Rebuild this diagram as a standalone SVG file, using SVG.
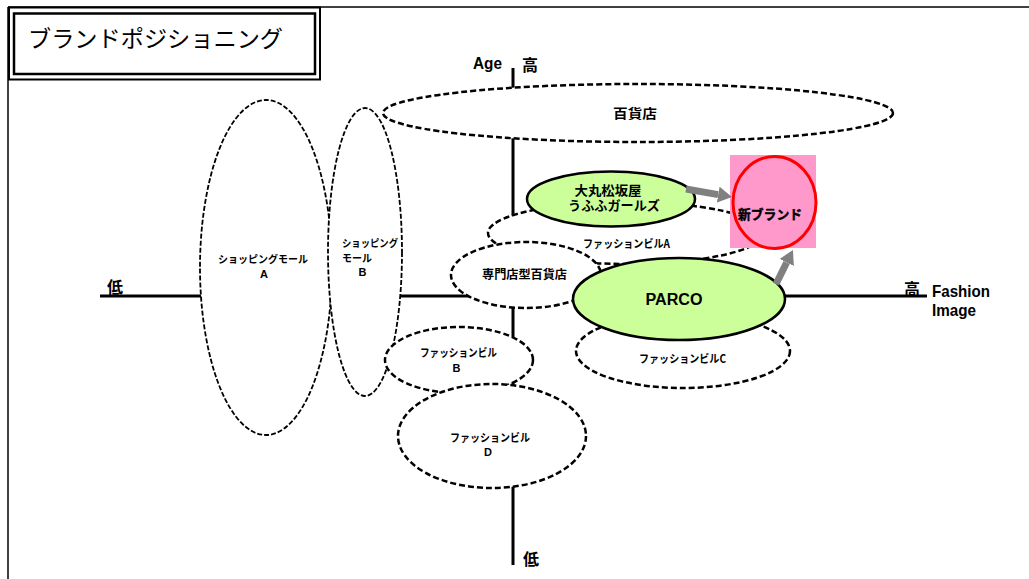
<svg xmlns="http://www.w3.org/2000/svg" width="1029" height="579" viewBox="0 0 1029 579">
<style>
.jp{font-family:"Noto Sans CJK JP","Liberation Sans",sans-serif;font-weight:bold;fill:#000}
.lt{font-family:"Liberation Sans","Noto Sans CJK JP",sans-serif;font-weight:bold;fill:#000}
.dash{fill:#fff;stroke:#000;stroke-width:2.5;stroke-dasharray:6 3}
.dashthin{fill:#fff;stroke:#000;stroke-width:1.8;stroke-dasharray:5 2}
.green{fill:#ccff99;stroke:#000;stroke-width:2.5}
.axis{stroke:#000;stroke-width:3;fill:none}
.garrow{stroke:#808080;stroke-width:7;fill:none}
</style>
<defs>
<marker id="ghead" markerUnits="userSpaceOnUse" markerWidth="14" markerHeight="16" refX="0" refY="8" orient="auto" viewBox="0 0 14 16">
<path d="M0,0 L14,8 L0,16 Z" fill="#808080"/>
</marker>
</defs>
<rect width="1029" height="579" fill="#fff"/>
<g id="frame">
<line x1="8" y1="7" x2="1029" y2="7" stroke="#000" stroke-width="1.5"/>
<line x1="8" y1="7" x2="8" y2="579" stroke="#000" stroke-width="1.5"/>
<rect x="9" y="7.5" width="311" height="72" fill="#fff" stroke="#000" stroke-width="2"/>
<rect x="14" y="13.5" width="301" height="60.5" fill="none" stroke="#000" stroke-width="2.5"/>
<text x="28" y="47" font-family="'Noto Sans CJK JP',sans-serif" font-size="23" textLength="255" lengthAdjust="spacingAndGlyphs">ブランドポジショニング</text>
</g>
<g id="axes">
<line class="axis" x1="100" y1="296" x2="927" y2="296"/>
<line class="axis" x1="513" y1="68" x2="513" y2="565"/>
<text class="lt" x="473" y="69" font-size="17" textLength="29" lengthAdjust="spacingAndGlyphs">Age</text>
<text class="jp" x="522" y="71" font-size="16">高</text>
<text class="jp" x="107" y="293" font-size="16">低</text>
<text class="jp" x="523" y="565" font-size="16">低</text>
<text class="jp" x="904" y="295" font-size="16">高</text>
<text class="lt" x="932" y="297" font-size="17" textLength="58" lengthAdjust="spacingAndGlyphs">Fashion</text>
<text class="lt" x="932" y="316" font-size="17" textLength="44" lengthAdjust="spacingAndGlyphs">Image</text>
</g>
<g id="mall-a">
<ellipse class="dashthin" cx="266" cy="267.5" rx="66" ry="167.5"/>
<text class="jp" x="263" y="263" font-size="10.5" text-anchor="middle" textLength="90" lengthAdjust="spacingAndGlyphs">ショッピングモール</text>
<text class="lt" x="264" y="278" font-size="11" text-anchor="middle">A</text>
</g>
<g id="mall-b">
<ellipse class="dashthin" cx="365" cy="252" rx="37" ry="144"/>
<text class="jp" x="342" y="247" font-size="10.5" textLength="56" lengthAdjust="spacingAndGlyphs">ショッピング</text>
<text class="jp" x="342" y="262" font-size="10.5" textLength="30" lengthAdjust="spacingAndGlyphs">モール</text>
<text class="lt" x="362.5" y="276" font-size="11" text-anchor="middle">B</text>
</g>
<g id="hyakkaten">
<ellipse class="dash" cx="638" cy="113" rx="255" ry="29"/>
<text class="jp" x="635" y="118" font-size="13" text-anchor="middle" textLength="44" lengthAdjust="spacingAndGlyphs">百貨店</text>
</g>
<g id="fashion-a">
<ellipse class="dash" cx="626" cy="233" rx="138" ry="31"/>
<text class="jp" x="626.5" y="248" font-size="11" text-anchor="middle" textLength="87" lengthAdjust="spacingAndGlyphs">ファッションビルA</text>
</g>
<g id="daimaru">
<ellipse class="green" cx="611" cy="199" rx="84" ry="27.5"/>
<text class="lt" x="608" y="194.5" font-size="13" text-anchor="middle" textLength="67" lengthAdjust="spacingAndGlyphs">大丸松坂屋</text>
<text class="lt" x="614" y="210" font-size="13" text-anchor="middle" textLength="92" lengthAdjust="spacingAndGlyphs">うふふガールズ</text>
</g>
<g id="senmonten">
<ellipse class="dash" cx="526" cy="275" rx="75" ry="33"/>
<text class="jp" x="524.5" y="279" font-size="12" text-anchor="middle" textLength="85" lengthAdjust="spacingAndGlyphs">専門店型百貨店</text>
</g>
<g id="fashion-c">
<ellipse class="dash" cx="683" cy="351" rx="107" ry="37"/>
<text class="jp" x="682.5" y="363" font-size="11" text-anchor="middle" textLength="87" lengthAdjust="spacingAndGlyphs">ファッションビルC</text>
</g>
<g id="parco">
<ellipse class="green" cx="679" cy="299" rx="106" ry="41"/>
<text class="lt" x="674" y="305" font-size="16" text-anchor="middle" textLength="57" lengthAdjust="spacingAndGlyphs">PARCO</text>
</g>
<g id="fashion-b">
<ellipse class="dash" cx="459" cy="360" rx="74" ry="33"/>
<text class="jp" x="458.5" y="357" font-size="11" text-anchor="middle" textLength="77" lengthAdjust="spacingAndGlyphs">ファッションビル</text>
<text class="lt" x="456.5" y="372" font-size="11" text-anchor="middle">B</text>
</g>
<g id="fashion-d">
<ellipse class="dash" cx="492" cy="436" rx="94" ry="52"/>
<text class="jp" x="490" y="442" font-size="11" text-anchor="middle" textLength="80" lengthAdjust="spacingAndGlyphs">ファッションビル</text>
<text class="lt" x="488" y="456" font-size="11" text-anchor="middle">D</text>
</g>
<g id="new-brand">
<rect x="730" y="155" width="86" height="93" fill="#ff99cc"/>
<ellipse cx="774.5" cy="202.5" rx="41.5" ry="46" fill="none" stroke="#ff0000" stroke-width="3"/>
<text class="jp" x="770" y="219" font-size="13" font-weight="900" text-anchor="middle" textLength="64" lengthAdjust="spacingAndGlyphs" stroke="#000" stroke-width="0.4">新ブランド</text>
</g>
<g id="connectors">
<line class="garrow" x1="686" y1="189" x2="718.2" y2="194.6" marker-end="url(#ghead)"/>
<line class="garrow" x1="776" y1="284" x2="786.7" y2="262.5" marker-end="url(#ghead)"/>
</g>
</svg>
